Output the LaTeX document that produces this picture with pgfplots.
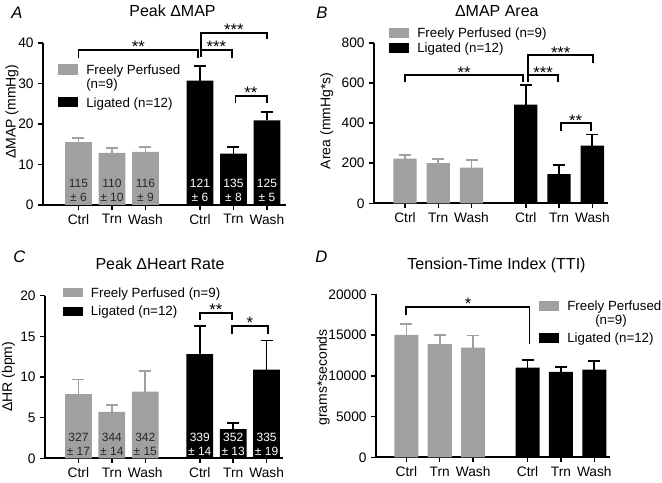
\documentclass[border=0pt]{standalone}
\usepackage{fontspec}
\setmainfont{Liberation Sans}
\usepackage{pgfplots}
\pgfplotsset{compat=1.18}

\definecolor{barGray}{RGB}{160,160,160}
\definecolor{lblDark}{RGB}{40,40,40}

\pgfplotsset{
  panel/.style={
    scale only axis,
    axis x line*=bottom, axis y line*=left,
    axis line style={line width=1.4pt},
    tick align=outside,
    major tick length=3.5pt,
    tick style={black, line width=1.1pt},
    xtick={0,1,2,3.63,4.63,5.63},
    xticklabels={Ctrl,Trn,Wash,Ctrl,Trn,Wash},
    ymin=0,
    tick label style={font=\fontsize{10.3}{12}\selectfont},
    /pgf/number format/assume math mode=true,
    /pgf/number format/set thousands separator={},
    clip=false,
  },
  grayBars/.style={ybar, bar width=#1, bar shift=0pt, fill=barGray, draw=none,
    error bars/y dir=plus, error bars/y explicit,
    error bars/error bar style={barGray, line width=1.3pt},
    error bars/error mark options={barGray, line width=1.3pt, mark size=4.5pt, rotate=90}},
  blackBars/.style={ybar, bar width=#1, bar shift=0pt, fill=black, draw=none,
    error bars/y dir=plus, error bars/y explicit,
    error bars/error bar style={black, line width=1.3pt},
    error bars/error mark options={black, line width=1.3pt, mark size=4.5pt, rotate=90}},
}

% x1, x2, left leg bottom, top, right leg bottom, star x, stars
\newcommand{\sig}[7]{%
  \draw[line width=1.4pt] (axis cs:#1,#3) |- (axis cs:#2,#4) -- (axis cs:#2,#5);
  \node[anchor=base, inner sep=0pt, yshift=-2.3pt, font=\fontsize{12.5}{14}\selectfont] at (axis cs:#6,#4) {#7};}
\newcommand{\inbar}[4]{% x, y, colour, text
  \node[align=center, text=#3, inner sep=0pt, font=\fontsize{9}{10.5}\selectfont] at (axis cs:#1,#2) {#4};}

\begin{document}
\begin{tikzpicture}

% ---- A: Peak dMAP
\begin{axis}[panel, at={({43*0.75pt},{-205*0.75pt})}, anchor=south west,
    width={243*0.75pt}, height={162*0.75pt},
    xmin=-1.06, xmax=6.2, ymax=40, ytick={0,10,20,30,40}]
\addplot[grayBars=0.8] coordinates {(0,15.5) +- (0,1.0) (1,12.9) +- (0,1.2) (2,13.1) +- (0,1.3)};
\addplot[blackBars=0.8] coordinates {(3.63,30.7) +- (0,3.7) (4.63,12.7) +- (0,1.7) (5.63,20.9) +- (0,2.1)};
\inbar{0}{3.7}{lblDark}{115\\± 6}
\inbar{1}{3.7}{lblDark}{110\\± 10}
\inbar{2}{3.7}{lblDark}{116\\± 9}
\inbar{3.63}{3.7}{white}{121\\± 6}
\inbar{4.63}{3.7}{white}{135\\± 8}
\inbar{5.63}{3.7}{white}{125\\± 5}
\sig{0}{3.58}{36.4}{38.3}{36.4}{1.79}{**}
\sig{3.66}{4.59}{36.5}{38.3}{36.3}{4.12}{***}
\sig{3.66}{5.63}{38.3}{42.5}{40.9}{4.64}{***}
\sig{4.69}{5.62}{25.1}{27.0}{25.1}{5.15}{**}
\end{axis}

% ---- B: dMAP Area
\begin{axis}[panel, at={({374*0.75pt},{-203.3*0.75pt})}, anchor=south west,
    width={234*0.75pt}, height={160.3*0.75pt},
    xmin=-0.93, xmax=6.1, ymax=800, ytick={0,200,400,600,800}]
\addplot[grayBars=0.7] coordinates {(0,223) +- (0,17) (1,200) +- (0,21) (2,178) +- (0,38)};
\addplot[blackBars=0.7] coordinates {(3.63,492) +- (0,97) (4.63,145) +- (0,46) (5.63,288) +- (0,55)};
\sig{0}{3.55}{604}{640}{604}{1.78}{**}
\sig{3.70}{4.61}{604}{640}{604}{4.15}{***}
\sig{3.70}{5.65}{640}{740}{702}{4.68}{***}
\sig{4.68}{5.58}{363}{399}{363}{5.13}{**}
\end{axis}

% ---- C: Peak dHR
\begin{axis}[panel, at={({45*0.75pt},{-458.3*0.75pt})}, anchor=south west,
    width={238*0.75pt}, height={162.6*0.75pt},
    xmin=-1.0, xmax=6.12, ymax=20, ytick={0,5,10,15,20}]
\addplot[grayBars=0.8] coordinates {(0,7.9) +- (0,1.8) (1,5.7) +- (0,0.9) (2,8.2) +- (0,2.5)};
\addplot[blackBars=0.8] coordinates {(3.63,12.8) +- (0,3.5) (4.63,3.6) +- (0,0.7) (5.63,10.9) +- (0,3.6)};
\inbar{0}{1.67}{lblDark}{327\\± 17}
\inbar{1}{1.67}{lblDark}{344\\± 14}
\inbar{2}{1.67}{lblDark}{342\\± 15}
\inbar{3.63}{1.67}{white}{339\\± 14}
\inbar{4.63}{1.67}{white}{352\\± 13}
\inbar{5.63}{1.67}{white}{335\\± 19}
\sig{3.63}{4.60}{17.0}{17.9}{17.0}{4.11}{**}
\sig{4.60}{5.66}{15.25}{16.3}{15.25}{5.13}{*}
\end{axis}

% ---- D: TTI
\begin{axis}[panel, at={({376*0.75pt},{-457.3*0.75pt})}, anchor=south west,
    width={234*0.75pt}, height={163*0.75pt},
    xmin=-0.91, xmax=6.1, ymax=20000, ytick={0,5000,10000,15000,20000},
    scaled y ticks=false]
\addplot[grayBars=0.72] coordinates {(0,15010) +- (0,1350) (1,13900) +- (0,1110) (2,13460) +- (0,1470)};
\addplot[blackBars=0.72] coordinates {(3.63,11000) +- (0,940) (4.63,10470) +- (0,650) (5.63,10760) +- (0,1020)};
\sig{0}{3.69}{17460}{18490}{13900}{1.85}{*}
\end{axis}

% ---- titles, legends, labels (1 px of the reference = 0.75pt)
\begin{scope}[x=0.75pt, y=-0.75pt]
\path (0,0) rectangle (662,479);
\tikzset{ttl/.style={anchor=base, inner sep=0pt, font=\fontsize{12}{14}\selectfont},
         lett/.style={anchor=base west, inner sep=0pt, font=\fontsize{12.5}{14}\selectfont\itshape},
         leg/.style={anchor=base west, inner sep=0pt, font=\fontsize{10}{12}\selectfont},
         ylab/.style={rotate=90, inner sep=0pt, font=\fontsize{10.5}{12}\selectfont}}
% letters
\node[lett] at (11,18.3) {A};
\node[lett] at (316,18.3) {B};
\node[lett] at (13,262.7) {C};
\node[lett] at (315,262.7) {D};
% titles
\node[ttl] at (172.5,16.7) {Peak ΔMAP};
\node[ttl] at (496.8,16.7) {ΔMAP Area};
\node[ttl] at (160,270) {Peak ΔHeart Rate};
\node[ttl] at (496.5,269.5) {Tension-Time Index (TTI)};
% y labels
\node[ylab] at (12,111.7) {ΔMAP (mmHg)};
\node[ylab] at (326.7,120.8) {Area (mmHg*s)};
\node[ylab] at (8.5,376.7) {ΔHR (bpm)};
\node[ylab] at (323.3,377.5) {grams*seconds};
% legend A
\fill[barGray] (58,64.3) rectangle (78,75);
\node[leg] at (86,75) {Freely Perfused};
\node[leg] at (86,89) {(n=9)};
\fill[black] (58,96.7) rectangle (78,107.3);
\node[leg] at (86,107.3) {Ligated (n=12)};
% legend B
\fill[barGray] (389,28.3) rectangle (409,37.7);
\node[leg] at (417,37.7) {Freely Perfused (n=9)};
\fill[black] (389,43.3) rectangle (409,52.7);
\node[leg] at (417,52.7) {Ligated (n=12)};
% legend C
\fill[barGray] (63,287.7) rectangle (83,297.3);
\node[leg] at (90.7,297.3) {Freely Perfused (n=9)};
\fill[black] (63,306.7) rectangle (83,316);
\node[leg] at (90.7,316) {Ligated (n=12)};
% legend D
\fill[barGray] (539,301) rectangle (559,311);
\node[leg] at (567,311) {Freely Perfused};
\node[anchor=base, inner sep=0pt, font=\fontsize{10}{12}\selectfont] at (611,325) {(n=9)};
\fill[black] (539,333.3) rectangle (559,342.7);
\node[leg] at (567,342.7) {Ligated (n=12)};
\end{scope}

\end{tikzpicture}
\end{document}
